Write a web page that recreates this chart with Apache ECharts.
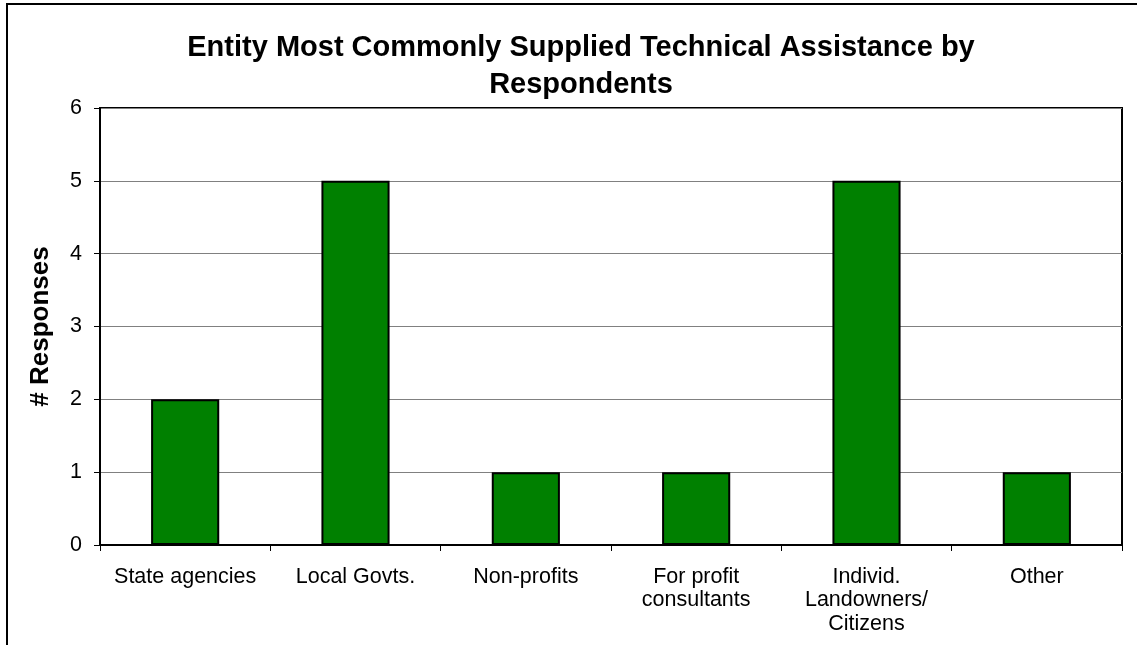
<!DOCTYPE html>
<html>
<head>
<meta charset="utf-8">
<script src="https://cdn.jsdelivr.net/npm/echarts@6/dist/echarts.min.js"></script>
<style>
html,body{margin:0;padding:0;background:#fff;}
#chart{width:1137px;height:645px;}
</style>
</head>
<body>
<div id="chart"></div>
<script>
const categories = ["State agencies", "Local Govts.", "Non-profits", "For profit\nconsultants", "Individ.\nLandowners/\nCitizens", "Other"];
const responses = [2, 5, 1, 1, 5, 1];
const yTicks = [0, 1, 2, 3, 4, 5, 6];
const titleText = "Entity Most Commonly Supplied Technical Assistance by\nRespondents";
const yAxisTitle = "# Responses";

const chart = echarts.init(document.getElementById('chart'));
const font = "Liberation Sans, Arial, sans-serif";
chart.setOption({
  animation: false,
  backgroundColor: '#ffffff',
  title: {
    text: titleText,
    left: 576,
    top: 24,
    textAlign: 'center',
    textStyle: {fontFamily: font, fontSize: 29, fontWeight: 'bold', color: '#000', lineHeight: 37}
  },
  graphic: [{
    type: 'rect',
    shape: {x: 7, y: 4, width: 1160, height: 700},
    style: {fill: 'none', stroke: '#000', lineWidth: 2},
    silent: true, z: 100
  }],
  grid: {
    left: 100, top: 108, right: 15, bottom: 100,
    show: true, borderColor: '#000', borderWidth: 2, backgroundColor: '#fff'
  },
  xAxis: {
    type: 'category',
    data: categories,
    axisLine: {show: true, lineStyle: {color: '#000', width: 2}},
    axisTick: {show: true, alignWithLabel: false, length: 6, lineStyle: {color: '#000', width: 1}},
    axisLabel: {fontFamily: font, fontSize: 21.5, color: '#000', margin: 20, lineHeight: 23.5, interval: 0}
  },
  yAxis: {
    type: 'value',
    min: 0, max: 6, interval: 1,
    name: yAxisTitle,
    nameLocation: 'middle',
    nameGap: 46,
    nameTextStyle: {fontFamily: font, fontSize: 26, fontWeight: 'bold', color: '#000'},
    axisLine: {show: true, lineStyle: {color: '#000', width: 2}},
    axisTick: {show: true, length: 6, lineStyle: {color: '#000', width: 1}},
    axisLabel: {fontFamily: font, fontSize: 21.5, color: '#000', margin: 18,
      formatter: v => yTicks.includes(v) ? String(v) : ''},
    splitLine: {show: true, lineStyle: {color: '#808080', width: 1}}
  },
  series: [{
    type: 'bar',
    data: responses,
    barWidth: '40%',
    itemStyle: {color: '#008000', borderColor: '#000', borderWidth: 2}
  }]
});
</script>
</body>
</html>
